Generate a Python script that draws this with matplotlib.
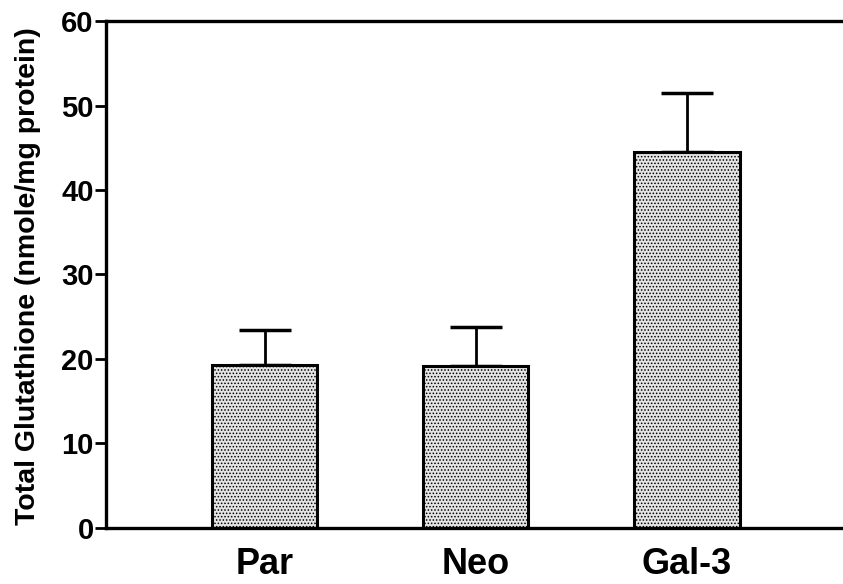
import matplotlib
matplotlib.use("Agg")
import matplotlib.pyplot as plt
import numpy as np

categories = ["Par", "Neo", "Gal-3"]
means = [19.3, 19.2, 44.5]
errors = [4.1, 4.6, 7.0]
yticks = [0, 10, 20, 30, 40, 50, 60]

plt.rcParams['font.family'] = ['Liberation Sans', 'DejaVu Sans']
plt.rcParams['hatch.color'] = '#707070'
plt.rcParams['hatch.linewidth'] = 0.7

fig = plt.figure(figsize=(8.43, 5.84), dpi=100)
ax = fig.add_axes([0.126, 0.096, 0.874, 0.868])

x = np.arange(len(categories))
ax.bar(x, means, width=0.5, color='#e4e4e4', edgecolor='black',
       linewidth=2.2, hatch='.....', zorder=2)
ax.errorbar(x, means, yerr=[np.zeros(len(errors)), errors], fmt='none',
            ecolor='black', elinewidth=2.0, capsize=19, capthick=2.5, zorder=1)

ax.set_xlim(-0.75, 2.74)
ax.set_ylim(0, 60)
ax.set_yticks(yticks)
ax.set_xticks(x)
ax.set_xticklabels(categories, fontsize=26, fontweight='bold')
ax.set_yticklabels([str(t) for t in yticks], fontsize=21, fontweight='bold')
ax.tick_params(axis='x', length=0, pad=14)
ax.tick_params(axis='y', direction='out', length=8, width=2, pad=1)
ax.set_ylabel("Total Glutathione (nmole/mg protein)", fontsize=20.5,
              fontweight='bold', labelpad=12)
ax.yaxis.set_label_coords(-0.089, 0.497)

for s in ['left', 'bottom', 'top']:
    ax.spines[s].set_linewidth(2.4)
ax.spines['right'].set_visible(False)

fig.savefig("out.png", dpi=100)
